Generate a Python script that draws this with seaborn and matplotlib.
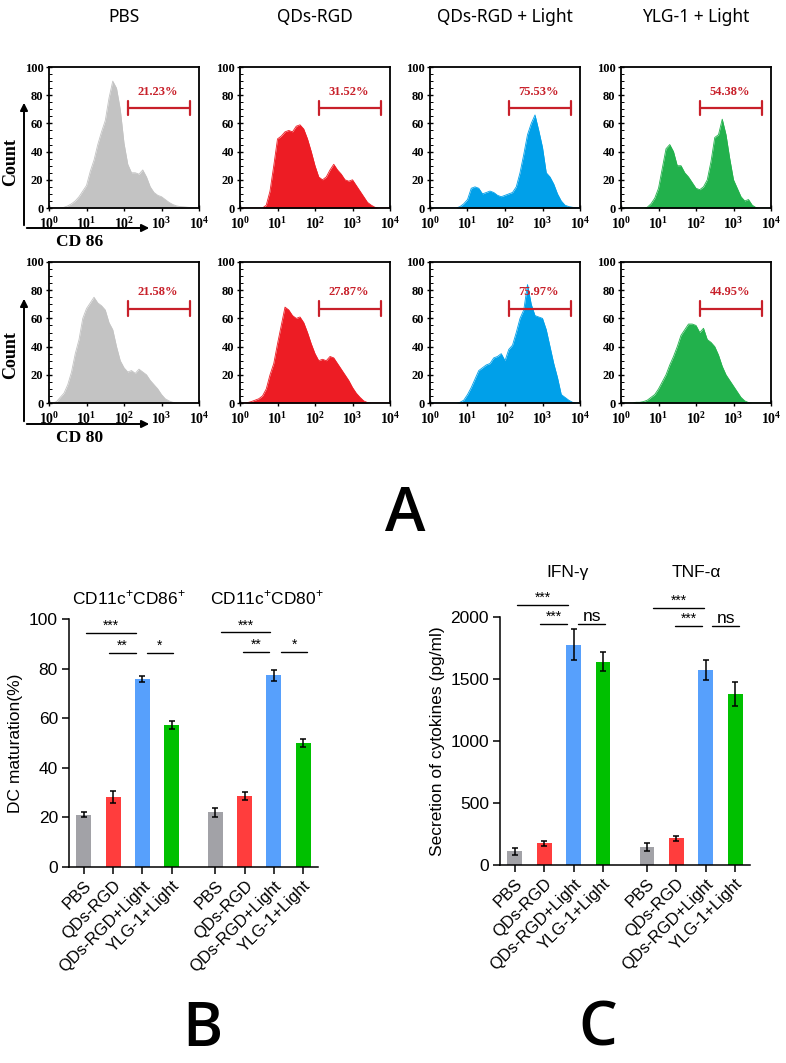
import numpy as np
import pandas as pd
import matplotlib
matplotlib.use("Agg")
import matplotlib.pyplot as plt
import seaborn as sns
from matplotlib.patches import FancyArrowPatch
from matplotlib.ticker import MultipleLocator

# ---------------- data ----------------
groups = ["PBS", "QDs-RGD", "QDs-RGD + Light", "YLG-1 + Light"]
hist_colors = ["#c3c3c3", "#ed1c24", "#00a0e9", "#22b14c"]

# log10 fluorescence positions (0 .. 4)
log_x = [0.0, 0.1, 0.2, 0.3, 0.4, 0.5, 0.6, 0.7, 0.8, 0.9,
         1.0, 1.1, 1.2, 1.3, 1.4, 1.5, 1.6, 1.7, 1.8, 1.9,
         2.0, 2.1, 2.2, 2.3, 2.4, 2.5, 2.6, 2.7, 2.8, 2.9,
         3.0, 3.1, 3.2, 3.3, 3.4, 3.5, 3.6, 3.7, 3.8, 3.9, 4.0]

cd86_pbs = [0, 0, 0, 0, 0.5, 1.5, 3, 5, 8, 12, 16, 26, 34, 45, 54, 62, 78, 90, 85, 70,
            46, 31, 25, 25, 24, 27, 22, 15, 11, 9, 8, 6, 4, 2.5, 1.5, 1, 0.8, 0.5, 0.3, 0.1, 0]
cd86_qds = [0, 0, 0, 0, 0, 0, 0, 2, 12, 30, 49, 51, 54, 55, 54, 58, 59, 56, 49, 40,
            30, 22, 20, 22, 27, 31, 27, 24, 20, 19, 20, 16, 12, 8, 4, 2, 0.5, 0, 0, 0, 0]
cd86_light = [0, 0, 0, 0, 0, 0, 0, 0, 1, 3, 6, 14, 15, 14, 10, 11, 12, 11, 9, 8,
              9, 10, 11, 15, 25, 38, 52, 60, 66, 55, 43, 25, 22, 17, 10, 5, 2, 1, 0.5, 0.2, 0]
cd86_ylg = [0, 0, 0, 0, 0, 0, 0, 0.5, 3, 7, 14, 28, 42, 45, 40, 30, 30, 25, 22, 18,
            14, 13, 15, 20, 33, 50, 52, 63, 52, 35, 20, 14, 8, 5, 6, 2, 0.3, 0, 0, 0, 0]

cd80_pbs = [0, 0, 1, 4, 7, 13, 22, 35, 45, 60, 67, 71, 75, 71, 69, 66, 57, 52, 40, 30,
            25, 22, 23, 21, 24, 22, 20, 16, 13, 10, 6, 3, 1.5, 0.5, 0.2, 0, 0, 0, 0, 0, 0]
cd80_qds = [0, 0, 0.3, 1, 2, 3, 5, 10, 20, 28, 42, 55, 68, 66, 62, 60, 61, 57, 50, 42,
            35, 30, 31, 30, 33, 32, 28, 24, 20, 16, 11, 7, 4, 1.5, 0.3, 0, 0, 0, 0, 0, 0]
cd80_light = [0, 0, 0, 0, 0, 0, 0, 0, 0.5, 2, 6, 11, 17, 23, 25, 27, 28, 32, 33, 35,
              30, 38, 41, 50, 60, 66, 84, 70, 62, 61, 60, 52, 40, 28, 18, 6, 4, 2, 0.5, 0, 0]
cd80_ylg = [0, 0, 0, 0, 0.5, 0.5, 1, 2, 4, 6, 10, 15, 20, 27, 33, 40, 48, 52, 56, 56,
            55, 50, 53, 45, 43, 40, 34, 26, 20, 16, 12, 8, 4, 1.5, 0.3, 0, 0, 0, 0, 0, 0]

cd86_pct = ["21.23%", "31.52%", "75.53%", "54.38%"]
cd80_pct = ["21.58%", "27.87%", "75.97%", "44.95%"]

# bar charts
treatments = ["PBS", "QDs-RGD", "QDs-RGD+Light", "YLG-1+Light"]
bar_colors = ["#a2a2a7", "#ff3d3d", "#57a0fc", "#00c000"]

markers = ["CD86", "CD80"]
dc_mean = [21.0, 28.2, 75.7, 57.3, 22.0, 28.7, 77.3, 50.0]
dc_err = [1.0, 2.5, 1.2, 1.5, 1.7, 1.5, 2.3, 1.5]

cytokines = ["IFN", "TNF"]
cyt_mean = [110, 175, 1775, 1640, 145, 215, 1575, 1380]
cyt_err = [30, 20, 125, 75, 30, 20, 80, 95]

# ---------------- style ----------------
sns.set_style("ticks")
plt.rcParams["font.family"] = ["Liberation Sans", "DejaVu Sans"]
plt.rcParams["mathtext.fontset"] = "custom"
plt.rcParams["mathtext.rm"] = "Liberation Sans"
plt.rcParams["mathtext.bf"] = "Liberation Serif:bold"
for k in ["text.color", "axes.labelcolor", "xtick.color", "ytick.color", "axes.edgecolor"]:
    plt.rcParams[k] = "black"

W, H = 786, 1063
fig = plt.figure(figsize=(W / 100, H / 100), dpi=100)


def fx(px):
    return px / W


def fy(py):
    return 1 - py / H


serif = dict(family="Liberation Serif", weight="bold")

# ---------------- panel A: histograms ----------------
col_left = [49, 240, 430, 621]
rows = [(67, 208, [cd86_pbs, cd86_qds, cd86_light, cd86_ylg], cd86_pct, 71, 82),
        (262, 403, [cd80_pbs, cd80_qds, cd80_light, cd80_ylg], cd80_pct, 67, 79)]

for top, bot, curves, pcts, gate_y, txt_y in rows:
    for i in range(4):
        ax = fig.add_axes([fx(col_left[i]), fy(bot), fx(150), (bot - top) / H])
        xs = [10 ** v for v in log_x]
        ax.fill_between(xs, curves[i], 0, color=hist_colors[i], lw=0)
        sns.lineplot(x=xs, y=curves[i], ax=ax, color=hist_colors[i], lw=0.6)
        ax.set_xscale("log")
        ax.set_xlim(1, 1e4)
        ax.set_ylim(0, 100)
        ax.set_xticks([1, 10, 100, 1000, 10000])
        ax.set_xticklabels([r"$\mathbf{10^{%d}}$" % k for k in range(5)], fontsize=10)
        ax.minorticks_off()
        ax.set_yticks([0, 20, 40, 60, 80, 100])
        ax.set_yticklabels([str(v) for v in [0, 20, 40, 60, 80, 100]],
                           fontsize=9, **serif)
        ax.yaxis.set_minor_locator(MultipleLocator(5))
        ax.tick_params(axis="y", which="major", direction="inout", length=4, width=1, pad=2)
        ax.tick_params(axis="y", which="minor", direction="in", length=1.8, width=0.7)
        ax.tick_params(axis="x", which="major", direction="inout", length=4, width=1, pad=4)
        for s in ax.spines.values():
            s.set_linewidth(1.3)
            s.set_visible(True)
        # gate
        g0, g1 = 10 ** 2.1, 10 ** 3.75
        ax.plot([g0, g1], [gate_y, gate_y], color="#c8202a", lw=1.6)
        ax.plot([g0, g0], [gate_y - 5, gate_y + 5], color="#c8202a", lw=1.6)
        ax.plot([g1, g1], [gate_y - 5, gate_y + 5], color="#c8202a", lw=1.6)
        ax.text(10 ** 2.9, txt_y, pcts[i], color="#c8202a", ha="center",
                va="center", fontsize=9, **serif)

for i, name in enumerate(groups):
    fig.text(fx(col_left[i] + 75), fy(17), name, ha="center", va="center",
             fontsize=12.5, family="Noto Sans")

# axis arrows and labels
for y0, ytip, lab_y, cd_y, cd in [(228, 100, 162, 242, "CD 86"),
                                  (424, 296, 355, 438, "CD 80")]:
    fig.add_artist(FancyArrowPatch((fx(24), fy(y0)), (fx(24), fy(ytip)),
                                   transform=fig.transFigure, arrowstyle="-|>",
                                   mutation_scale=11, lw=1.4, color="black"))
    fig.add_artist(FancyArrowPatch((fx(24), fy(y0)), (fx(152), fy(y0)),
                                   transform=fig.transFigure, arrowstyle="-|>",
                                   mutation_scale=11, lw=1.4, color="black"))
    fig.text(fx(11), fy(lab_y), "Count", rotation=90, ha="center", va="center",
             fontsize=13, **serif)
    fig.text(fx(80), fy(cd_y), cd, ha="center", va="center", fontsize=12.5, **serif)

for letter, px, py in [("A", 405, 515), ("B", 202, 1030), ("C", 598, 1030)]:
    fig.text(fx(px), fy(py), letter, ha="center", va="center", fontsize=44,
             family="Open Sans", weight="semibold")


# ---------------- panels B and C ----------------
def bar_panel(rect, cats, means, errs, ylim, yticks, ylabel, titles, title_y,
              sigs, sig_fs):
    ax = fig.add_axes(rect)
    df = pd.DataFrame({
        "group": [c for c in cats for _ in treatments],
        "treat": treatments * len(cats),
        "value": means,
    })
    sns.barplot(data=df, x="group", y="value", hue="treat", hue_order=treatments,
                palette=bar_colors, saturation=1, width=0.889, gap=0.49,
                errorbar=None, legend=False, ax=ax, linewidth=0)
    bars = sorted([p for p in ax.patches if p.get_height() > 0], key=lambda p: p.get_x())
    cx = [p.get_x() + p.get_width() / 2 for p in bars]
    ax.errorbar(cx, means, yerr=errs, fmt="none", ecolor="black", elinewidth=1.1,
                capsize=2.5, capthick=1.1)
    step = cx[1] - cx[0]
    ax.set_xlim(cx[0] - 0.51 * step, cx[-1] + 0.51 * step)
    ax.set_ylim(*ylim)
    ax.set_yticks(yticks)
    ax.set_yticklabels([str(v) for v in yticks], fontsize=12.5)
    ax.set_xticks(cx)
    ax.set_xticklabels(treatments * len(cats), rotation=45, ha="right",
                       rotation_mode="anchor", fontsize=12)
    ax.set_xlabel("")
    ax.set_ylabel(ylabel, fontsize=12.5, labelpad=4)
    ax.tick_params(length=5, width=1.1, pad=3)
    sns.despine(ax=ax)
    for s in ["left", "bottom"]:
        ax.spines[s].set_linewidth(1.1)

    def ux(u):
        return cx[0] + u * step

    for u, text in titles:
        ax.text(ux(u), title_y, text, ha="center", va="center", fontsize=12.5)
    for u0, u1, yv, lab in sigs:
        ax.plot([ux(u0), ux(u1)], [yv, yv], color="black", lw=1.0, clip_on=False)
        fs = 12.5 if lab == "ns" else sig_fs
        ax.text((ux(u0) + ux(u1)) / 2, yv, lab, ha="center", va="bottom",
                fontsize=fs)
    return ax


bar_panel([fx(69), fy(867), fx(249), 248 / H], markers, dc_mean, dc_err,
          (0, 100), [0, 20, 40, 60, 80, 100], "DC maturation(%)",
          [(1.55, r"CD11c$^{+}$CD86$^{+}$"), (6.25, r"CD11c$^{+}$CD80$^{+}$")], 108.5,
          [(0.07, 1.77, 94.4, "***"), (0.85, 1.77, 86.3, "**"), (2.15, 3.05, 86.3, "*"),
           (4.68, 6.38, 94.6, "***"), (5.46, 6.35, 86.6, "**"), (6.76, 7.65, 86.6, "*")],
          10)

bar_panel([fx(500), fy(865), fx(250), 248 / H], cytokines, cyt_mean, cyt_err,
          (0, 2000), [0, 500, 1000, 1500, 2000], "Secretion of cytokines (pg/ml)",
          [(1.8, "IFN-γ"), (6.18, "TNF-α")], 2355,
          [(0.07, 1.8, 2097, "***"), (0.85, 1.77, 1944, "***"), (2.15, 3.07, 1944, "ns"),
           (4.71, 6.45, 2073, "***"), (5.46, 6.38, 1927, "***"), (6.72, 7.65, 1927, "ns")],
          10)

fig.savefig("out.png", dpi=100)
